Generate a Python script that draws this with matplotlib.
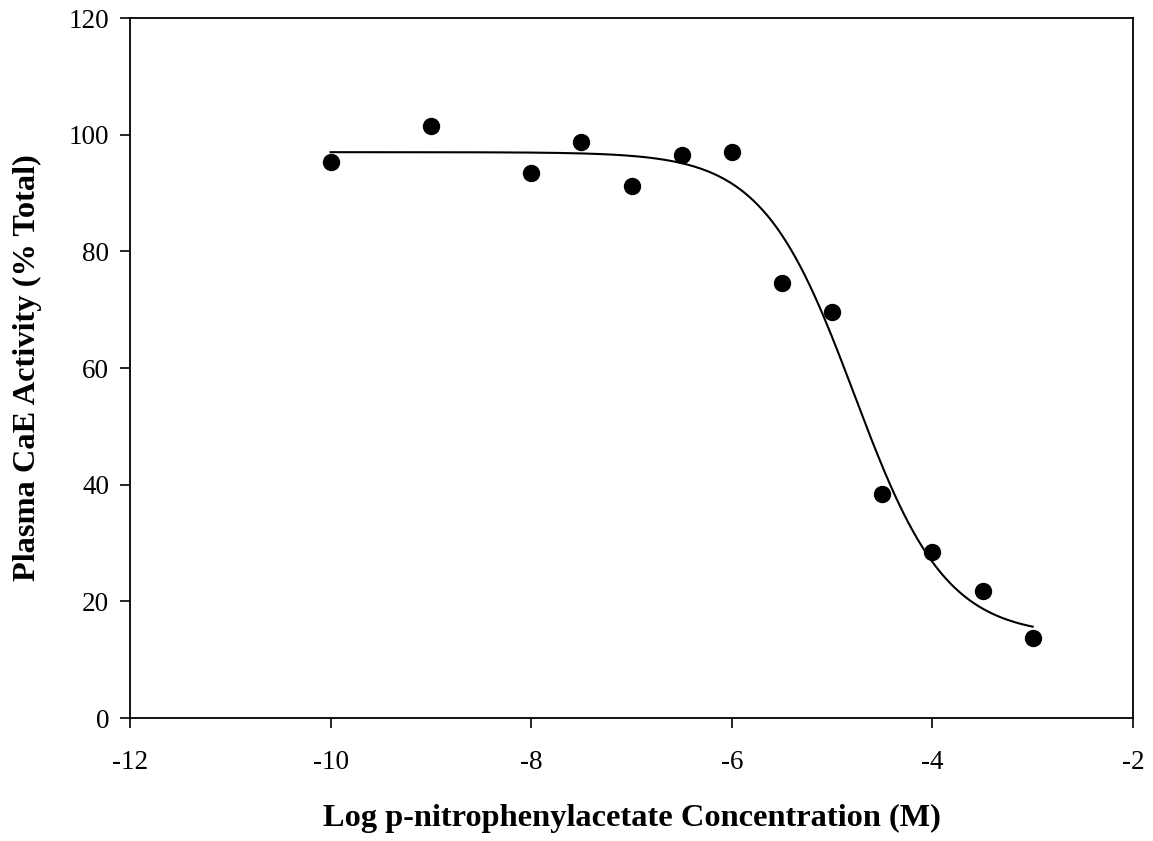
import numpy as np
import matplotlib.pyplot as plt

plt.rcParams['font.family'] = ['Liberation Serif', 'DejaVu Serif']
plt.rcParams['axes.unicode_minus'] = False

# measured points
log_conc = [-10, -9, -8, -7.5, -7, -6.5, -6, -5.5, -5, -4.5, -4, -3.5, -3]
activity = [95.3, 101.5, 93.5, 98.8, 91.2, 96.5, 97.1, 74.6, 69.6, 38.4, 28.4, 21.8, 13.8]

# fitted 4-parameter logistic
fit_top = 97.0
fit_bottom = 14.0
fit_logec50 = -4.78
fit_hill = 0.95

x_ticks = [-12, -10, -8, -6, -4, -2]
y_ticks = [0, 20, 40, 60, 80, 100, 120]


def logistic(x):
    return fit_bottom + (fit_top - fit_bottom) / (1 + 10 ** (fit_hill * (x - fit_logec50)))


fig = plt.figure(figsize=(11.53, 8.41), dpi=100)
ax = fig.add_axes([130 / 1153, 1 - 718 / 841, (1133 - 130) / 1153, (718 - 18) / 841])

xs = np.linspace(min(log_conc), max(log_conc), 300)
ax.plot(xs, logistic(xs), color='black', lw=1.5)
ax.plot(log_conc, activity, 'o', color='black', markersize=11.5)

ax.set_xlim(-12, -2)
ax.set_ylim(0, 120)
ax.set_xticks(x_ticks)
ax.set_yticks(y_ticks)
ax.tick_params(direction='out', length=7, width=1.2, labelsize=19.5)
ax.tick_params(axis='x', pad=16)
ax.tick_params(axis='y', pad=8)
for s in ax.spines.values():
    s.set_linewidth(1.3)

ax.set_xlabel('Log p-nitrophenylacetate Concentration (M)', fontsize=23.3,
              fontweight='bold', labelpad=21)
ax.set_ylabel('Plasma CaE Activity (% Total)', fontsize=23.3,
              fontweight='bold', labelpad=19)

fig.savefig('out.png', dpi=100)
